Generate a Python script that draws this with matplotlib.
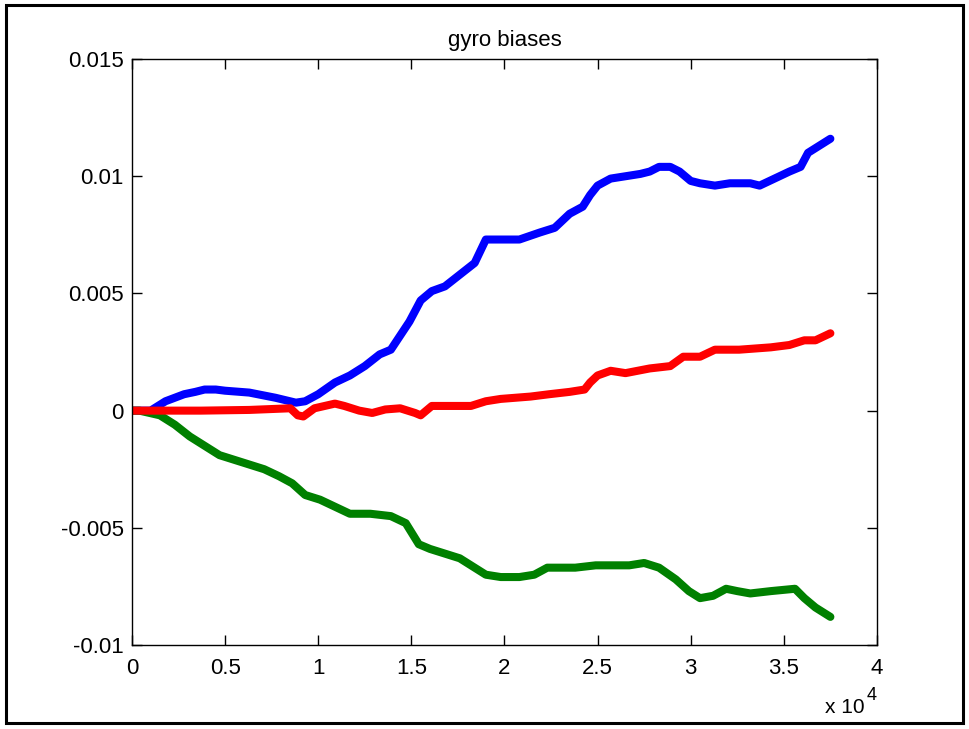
import numpy as np
import matplotlib.pyplot as plt
from matplotlib.patches import Rectangle
from matplotlib.ticker import FixedLocator, FixedFormatter

#%% Data (time in units of 1e4 samples, bias in rad/s)

t_blue = [0.0, 0.1, 0.18, 0.28, 0.34, 0.39, 0.45, 0.5, 0.63, 0.77, 0.88, 0.93, 1.0, 1.09,
          1.17, 1.25, 1.33, 1.39, 1.44, 1.49, 1.55, 1.61, 1.68, 1.76, 1.84, 1.9, 1.98,
          2.08, 2.19, 2.27, 2.35, 2.42, 2.46, 2.5, 2.57, 2.65, 2.73, 2.78, 2.83, 2.89,
          2.94, 3.0, 3.05, 3.13, 3.21, 3.32, 3.37, 3.45, 3.53, 3.59, 3.63, 3.69, 3.75]
b_blue = [0.0, 0.0, 0.0004, 0.0007, 0.0008, 0.0009, 0.0009, 0.00085, 0.00077, 0.00055,
          0.00034, 0.0004, 0.0007, 0.0012, 0.0015, 0.0019, 0.0024, 0.0026, 0.0032, 0.0038,
          0.0047, 0.0051, 0.0053, 0.0058, 0.0063, 0.0073, 0.0073, 0.0073, 0.0076, 0.0078,
          0.0084, 0.0087, 0.0092, 0.0096, 0.0099, 0.0100, 0.0101, 0.0102, 0.0104, 0.0104,
          0.0102, 0.0098, 0.0097, 0.0096, 0.0097, 0.0097, 0.0096, 0.0099, 0.0102, 0.0104,
          0.0110, 0.0113, 0.0116]

t_green = [0.0, 0.04, 0.15, 0.23, 0.31, 0.39, 0.47, 0.55, 0.63, 0.71, 0.79, 0.86, 0.93,
           1.01, 1.09, 1.17, 1.28, 1.39, 1.47, 1.54, 1.6, 1.68, 1.76, 1.84, 1.9, 1.98,
           2.08, 2.16, 2.23, 2.3, 2.38, 2.49, 2.57, 2.67, 2.75, 2.83, 2.92, 2.99, 3.05,
           3.12, 3.19, 3.25, 3.32, 3.43, 3.56, 3.61, 3.67, 3.75]
b_green = [0.0, 0.0, -0.0002, -0.0006, -0.0011, -0.0015, -0.0019, -0.0021, -0.0023,
           -0.0025, -0.0028, -0.0031, -0.0036, -0.0038, -0.0041, -0.0044, -0.0044,
           -0.0045, -0.0048, -0.0057, -0.0059, -0.0061, -0.0063, -0.0067, -0.0070,
           -0.0071, -0.0071, -0.0070, -0.0067, -0.0067, -0.0067, -0.0066, -0.0066,
           -0.0066, -0.0065, -0.0067, -0.0072, -0.0077, -0.0080, -0.0079, -0.0076,
           -0.0077, -0.0078, -0.0077, -0.0076, -0.0080, -0.0084, -0.0088]

t_red = [0.0, 0.37, 0.63, 0.85, 0.89, 0.92, 0.98, 1.09, 1.14, 1.22, 1.29, 1.36, 1.44,
         1.52, 1.55, 1.61, 1.71, 1.82, 1.9, 1.98, 2.14, 2.24, 2.35, 2.43, 2.46, 2.5,
         2.57, 2.65, 2.78, 2.89, 2.96, 3.05, 3.13, 3.26, 3.43, 3.53, 3.61, 3.67, 3.75]
b_red = [0.0, 0.0, 0.00003, 0.0001, -0.0002, -0.00025, 0.0001, 0.0003, 0.0002, 0.0,
         -0.0001, 0.00005, 0.0001, -0.0001, -0.0002, 0.0002, 0.0002, 0.0002, 0.0004,
         0.0005, 0.0006, 0.0007, 0.0008, 0.0009, 0.0012, 0.0015, 0.0017, 0.0016,
         0.0018, 0.0019, 0.0023, 0.0023, 0.0026, 0.0026, 0.0027, 0.0028, 0.0030,
         0.0030, 0.0033]

x_ticks = [0, 0.5, 1, 1.5, 2, 2.5, 3, 3.5, 4]
x_labels = ['0', '0.5', '1', '1.5', '2', '2.5', '3', '3.5', '4']
y_ticks = [-0.01, -0.005, 0, 0.005, 0.01, 0.015]
y_labels = ['-0.01', '-0.005', '0', '0.005', '0.01', '0.015']

#%% Plot

plt.rcParams['font.family'] = ['Liberation Sans', 'DejaVu Sans']
fs = 16

fig = plt.figure(figsize=(9.69, 7.29), dpi=100)
ax = fig.add_axes([0.1362, 0.1152, 0.7688, 0.8038])

lw = 5.8
ax.plot(t_blue, b_blue, color=(0, 0, 1), lw=lw, solid_capstyle='round', solid_joinstyle='round')
ax.plot(t_green, b_green, color=(0, 0.5, 0), lw=lw, solid_capstyle='round', solid_joinstyle='round')
ax.plot(t_red, b_red, color=(1, 0, 0), lw=lw, solid_capstyle='round', solid_joinstyle='round')

ax.set_xlim(0, 4)
ax.set_ylim(-0.01, 0.015)
ax.xaxis.set_major_locator(FixedLocator(x_ticks))
ax.xaxis.set_major_formatter(FixedFormatter(x_labels))
ax.yaxis.set_major_locator(FixedLocator(y_ticks))
ax.yaxis.set_major_formatter(FixedFormatter(y_labels))
ax.tick_params(direction='in', length=7, width=1, top=True, right=True, labelsize=fs)
ax.tick_params(axis='x', pad=9)
ax.tick_params(axis='y', pad=6)
for s in ax.spines.values():
    s.set_linewidth(1)
ax.set_title('gyro biases', fontsize=fs, pad=9.5)

# exponent label, matlab style (x 10 with a raised 4)
fig.text(0.851, 0.022, 'x 10', fontsize=15, ha='left', va='baseline')
fig.text(0.8945, 0.040, '4', fontsize=13, ha='left', va='baseline')

# frame round the whole figure
fig.patches.append(Rectangle((0.006, 0.008), 0.988, 0.985, transform=fig.transFigure,
                             fill=False, edgecolor='black', lw=2.2))

plt.savefig('out.png', dpi=100)
